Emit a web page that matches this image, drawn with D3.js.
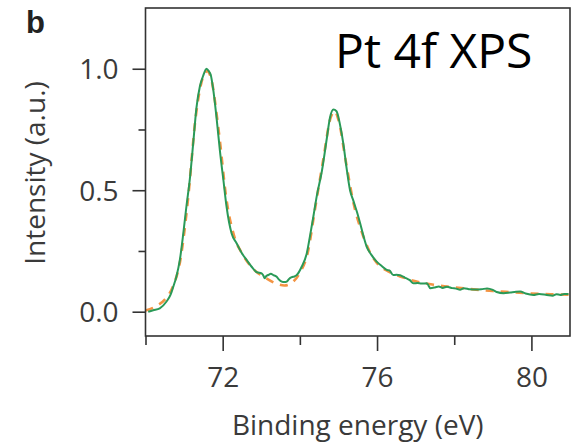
<!DOCTYPE html>
<html>
<head>
<meta charset="utf-8">
<script src="https://cdn.jsdelivr.net/npm/d3@7/dist/d3.min.js"></script>
<style>
  html, body { margin: 0; padding: 0; background: #fff; }
  svg { display: block; }
</style>
</head>
<body>
<svg id="chart" width="575" height="444"></svg>
<script>
// ---- data ----
const xTicks = [70, 72, 74, 76, 78, 80];
const xTickLabels = ["", "72", "", "76", "", "80"];
const yTicks = [0, 0.25, 0.5, 0.75, 1.0];
const yTickLabels = ["0.0", "", "0.5", "", "1.0"];

const measuredEnergy = [70.07,70.2,70.37,70.54,70.65,70.72,70.8,70.89,70.98,71.06,71.15,71.24,71.32,71.41,71.49,71.58,71.64,71.69,71.75,71.84,71.93,72.02,72.1,72.23,72.36,72.5,72.62,72.75,72.88,73.01,73.05,73.09,73.13,73.18,73.25,73.31,73.4,73.46,73.53,73.6,73.66,73.72,73.79,73.86,73.92,74.05,74.18,74.26,74.35,74.44,74.57,74.7,74.78,74.87,74.95,75.04,75.13,75.21,75.3,75.39,75.48,75.56,75.65,75.73,75.85,75.99,76.12,76.25,76.32,76.42,76.5,76.6,76.68,76.75,76.85,76.94,77.05,77.15,77.29,77.38,77.5,77.6,77.7,77.81,77.95,78.05,78.15,78.25,78.41,78.55,78.7,78.85,79.0,79.1,79.28,79.45,79.6,79.71,79.85,80.05,80.2,80.4,80.55,80.65,80.75,80.85,80.96];
const measuredIntensity = [0.0,0.006,0.014,0.041,0.07,0.103,0.144,0.213,0.323,0.433,0.548,0.70,0.839,0.928,0.969,1.0,0.99,0.975,0.92,0.80,0.66,0.54,0.433,0.323,0.282,0.24,0.213,0.185,0.163,0.158,0.15,0.138,0.147,0.151,0.156,0.151,0.144,0.132,0.124,0.122,0.124,0.135,0.142,0.145,0.151,0.186,0.241,0.309,0.392,0.478,0.578,0.715,0.798,0.832,0.825,0.77,0.688,0.592,0.50,0.455,0.41,0.365,0.31,0.268,0.235,0.206,0.188,0.172,0.17,0.151,0.152,0.15,0.144,0.138,0.13,0.117,0.118,0.116,0.117,0.097,0.1,0.104,0.098,0.103,0.097,0.095,0.09,0.097,0.092,0.091,0.092,0.096,0.09,0.081,0.076,0.079,0.082,0.083,0.075,0.069,0.073,0.069,0.066,0.072,0.069,0.073,0.073];

const fitEnergy = [70.0,70.3,70.5,70.7,70.9,71.1,71.3,71.5,71.6,71.7,71.9,72.1,72.3,72.5,72.8,73.1,73.4,73.6,73.8,74.0,74.2,74.4,74.6,74.8,74.9,75.0,75.2,75.4,75.6,75.8,76.0,76.3,76.6,77.0,77.5,78.0,78.5,79.0,79.5,80.0,80.5,81.0];
const fitIntensity = [0.005,0.025,0.05,0.10,0.21,0.46,0.80,0.97,0.99,0.96,0.74,0.46,0.31,0.24,0.175,0.14,0.115,0.108,0.12,0.16,0.24,0.43,0.62,0.80,0.825,0.79,0.61,0.44,0.33,0.25,0.20,0.165,0.145,0.125,0.11,0.10,0.092,0.085,0.08,0.075,0.072,0.07];

// ---- layout ----
const svg = d3.select("#chart");
const plotL = 145.5, plotR = 570, plotT = 8, plotB = 336;
const x = d3.scaleLinear().domain([70, 81]).range([plotL, plotR]);
const y = d3.scaleLinear().domain([-0.1, 1.25]).range([plotB, plotT]);
const axisColor = "#333";
const textColor = "#3a3a3a";
const font = "'Open Sans', 'DejaVu Sans', sans-serif";

// curves
const fitData = fitEnergy.map((e, i) => [e, fitIntensity[i]]);
const measData = measuredEnergy.map((e, i) => [e, measuredIntensity[i]]);

svg.append("path")
  .datum(fitData)
  .attr("fill", "none")
  .attr("stroke", "#f39443")
  .attr("stroke-width", 2.6)
  .attr("stroke-dasharray", "8,7")
  .attr("d", d3.line().x(d => x(d[0])).y(d => y(d[1])).curve(d3.curveMonotoneX));

svg.append("path")
  .datum(measData)
  .attr("fill", "none")
  .attr("stroke", "#2a9a58")
  .attr("stroke-width", 2)
  .attr("stroke-linejoin", "round")
  .attr("d", d3.line().x(d => x(d[0])).y(d => y(d[1])).curve(d3.curveMonotoneX));

// frame
svg.append("rect")
  .attr("x", plotL).attr("y", plotT)
  .attr("width", plotR - plotL).attr("height", plotB - plotT)
  .attr("fill", "none").attr("stroke", axisColor).attr("stroke-width", 1.6);

// x axis
const xAxis = d3.axisBottom(x).tickValues(xTicks).tickSize(0).tickFormat("");
const gx = svg.append("g").attr("transform", `translate(0,${plotB})`).call(xAxis);
gx.select(".domain").remove();
gx.selectAll(".tick line")
  .attr("y2", (d, i) => xTickLabels[i] ? 15 : 9)
  .attr("stroke", axisColor).attr("stroke-width", 1.6);
gx.selectAll(".tick text").remove();
gx.selectAll(".tick").append("text")
  .attr("y", 51)
  .attr("text-anchor", "middle")
  .attr("fill", textColor)
  .style("font-family", font)
  .style("font-size", "28px")
  .text((d, i) => xTickLabels[i]);

// y axis
const yAxis = d3.axisLeft(y).tickValues(yTicks).tickSize(0).tickFormat("");
const gy = svg.append("g").attr("transform", `translate(${plotL},0)`).call(yAxis);
gy.select(".domain").remove();
gy.selectAll(".tick line")
  .attr("x2", (d, i) => yTickLabels[i] ? -13 : -7)
  .attr("stroke", axisColor).attr("stroke-width", 1.6);
gy.selectAll(".tick text").remove();
gy.selectAll(".tick").append("text")
  .attr("x", -27)
  .attr("dy", "0.36em")
  .attr("text-anchor", "end")
  .attr("fill", textColor)
  .style("font-family", font)
  .style("font-size", "28px")
  .text((d, i) => yTickLabels[i]);

// axis titles
svg.append("text")
  .attr("x", (plotL + plotR) / 2).attr("y", 435)
  .attr("text-anchor", "middle")
  .attr("fill", textColor)
  .style("font-family", font).style("font-size", "28px")
  .text("Binding energy (eV)");

svg.append("text")
  .attr("transform", "translate(45,173) rotate(-90)")
  .attr("text-anchor", "middle")
  .attr("fill", textColor)
  .style("font-family", font).style("font-size", "28px")
  .text("Intensity (a.u.)");

// annotation
svg.append("text")
  .attr("x", 335).attr("y", 68)
  .attr("fill", "#000")
  .style("font-family", font).style("font-size", "48px")
  .text("Pt 4f XPS");

// panel label
svg.append("text")
  .attr("x", 26).attr("y", 33)
  .attr("fill", "#222")
  .style("font-family", "'Liberation Sans', Arial, sans-serif")
  .style("font-weight", "bold").style("font-size", "31px")
  .text("b");
</script>
</body>
</html>
